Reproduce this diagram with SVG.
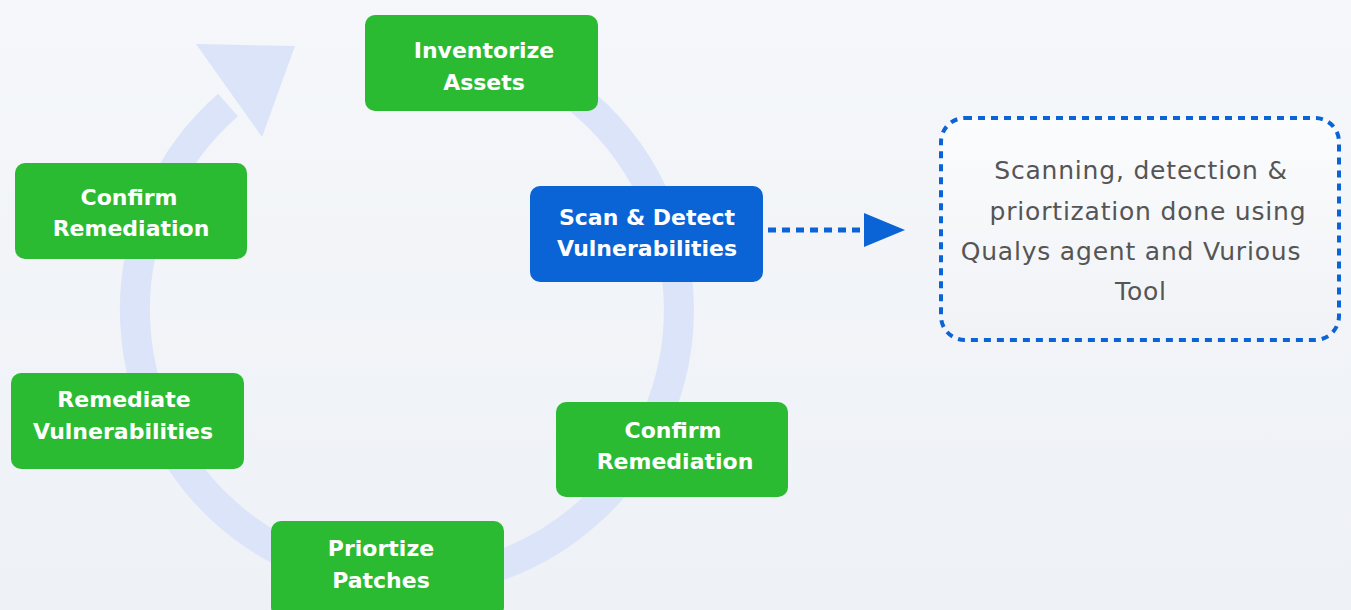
<svg xmlns="http://www.w3.org/2000/svg" width="1351" height="610" viewBox="0 0 1351 610">
<defs>
<linearGradient id="bg" x1="0" y1="0" x2="0" y2="1">
<stop offset="0" stop-color="#f5f7fa"/>
<stop offset="1" stop-color="#eef1f6"/>
</linearGradient>
<linearGradient id="note" x1="0" y1="0" x2="0" y2="1">
<stop offset="0" stop-color="#fbfcfd"/>
<stop offset="1" stop-color="#f0f2f6"/>
</linearGradient>
<style>
.g rect{fill:#2bbb33;}
.b rect{fill:#0a64d6;}
.lbl{font-family:"DejaVu Sans","Liberation Sans",sans-serif;font-weight:700;font-size:22px;fill:#ffffff;text-anchor:middle;}
.note{font-family:"DejaVu Sans","Liberation Sans",sans-serif;font-size:25px;letter-spacing:0.8px;fill:#555555;text-anchor:middle;}
.ring{fill:none;stroke:#dbe4f8;stroke-width:30;}
.dot{fill:none;stroke:#0a64d6;stroke-width:5;stroke-dasharray:8 6;}
</style>
</defs>
<rect width="1351" height="610" fill="url(#bg)"/>
<g id="cycle">
<path class="ring" d="M 454 42 A 272 272 0 1 1 228 105"/>
<polygon points="196,44 295,46 262,137" fill="#dbe4f8"/>
</g>
<g id="connectors">
<line class="dot" x1="768" y1="230" x2="866" y2="230"/>
<polygon points="864,213 905,230 864,247" fill="#0a64d6"/>
</g>
<g id="inventorize" class="g">
<rect x="365" y="15" width="233" height="96" rx="10"/>
<text class="lbl" x="484" y="58">Inventorize</text>
<text class="lbl" x="484" y="90">Assets</text>
</g>
<g id="confirm-left" class="g">
<rect x="15" y="163" width="232" height="96" rx="10"/>
<text class="lbl" x="129" y="205">Confirm</text>
<text class="lbl" x="131" y="236">Remediation</text>
</g>
<g id="scan" class="b">
<rect x="530" y="186" width="233" height="96" rx="10"/>
<text class="lbl" x="647" y="225">Scan &amp; Detect</text>
<text class="lbl" x="647" y="256">Vulnerabilities</text>
</g>
<g id="remediate" class="g">
<rect x="11" y="373" width="233" height="96" rx="10"/>
<text class="lbl" x="124" y="407">Remediate</text>
<text class="lbl" x="123" y="439">Vulnerabilities</text>
</g>
<g id="priortize" class="g">
<rect x="271" y="521" width="233" height="96" rx="10"/>
<text class="lbl" x="381" y="556">Priortize</text>
<text class="lbl" x="381" y="588">Patches</text>
</g>
<g id="confirm-right" class="g">
<rect x="556" y="402" width="232" height="95" rx="10"/>
<text class="lbl" x="673" y="438">Confirm</text>
<text class="lbl" x="675" y="469">Remediation</text>
</g>
<g id="note-box">
<rect x="941" y="118" width="398" height="222" rx="24" fill="url(#note)" stroke="#0a64d6" stroke-width="4" stroke-dasharray="7 6"/>
<text class="note" x="1141" y="179">Scanning, detection &amp;</text>
<text class="note" x="1148" y="220">priortization done using</text>
<text class="note" x="1131" y="260">Qualys agent and Vurious</text>
<text class="note" x="1141" y="300">Tool</text>
</g>
</svg>
